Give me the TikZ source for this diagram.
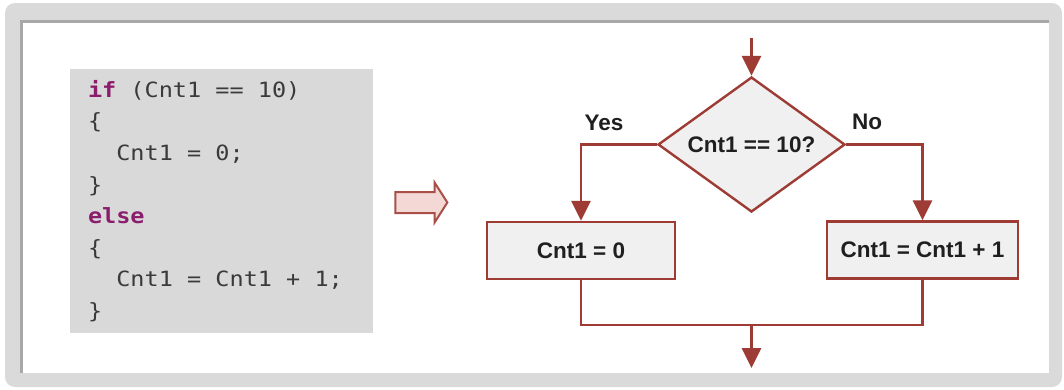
\documentclass[tikz,border=0pt]{standalone}
\usepackage{fontspec}
\setmainfont{Liberation Sans}
\newfontfamily\codefont[FakeStretch=1.12]{DejaVu Sans Mono}
\usepackage{xcolor}
\usetikzlibrary{positioning,arrows.meta,shapes.geometric,shapes.arrows}

\definecolor{flowred}{HTML}{9E3B34}
\definecolor{boxgray}{HTML}{F0F0F0}
\definecolor{codegray}{HTML}{D9D9D9}
\definecolor{codetext}{HTML}{3A3A3A}
\definecolor{keyword}{HTML}{8B1E6C}
\definecolor{framegray}{HTML}{DADADA}
\definecolor{shadowgray}{HTML}{A8A8A8}
\definecolor{arrowpink}{HTML}{F4D8D6}

\newcommand{\kw}[1]{\textcolor{keyword}{\bfseries #1}}
\newcommand{\blank}{\phantom{x}}
\newcommand{\ind}{\phantom{xx}}

\begin{document}
\begin{tikzpicture}[x=1pt, y=-1pt, every node/.style={font=\bfseries\fontsize{22.5}{27}\selectfont, text=black!88}]
  \tikzset{
    flow/.style={draw=flowred, line width=2.8pt},
    tip/.style={-{Triangle[width=19pt,length=20pt]}},
    procbox/.style={draw=flowred, line width=2.4pt, fill=boxgray, minimum height=57pt, inner sep=0pt},
    decision/.style={diamond, aspect=1.4, draw=flowred, line width=2.4pt, fill=boxgray,
                     minimum width=187pt, minimum height=135pt, inner sep=0pt},
    codebox/.style={fill=codegray, minimum width=303pt, minimum height=264pt, inner sep=0pt,
                    text width=267pt, align=left, text=codetext,
                    font=\codefont\fontsize{21}{31.6}\selectfont}
  }
  \useasboundingbox (0,0) rectangle (1064,389);

  % slide frame
  \fill[framegray, rounded corners=10pt] (5,3) rectangle (1062,387);
  \fill[white] (22,20) rectangle (1049,373);
  \draw[shadowgray, line width=3pt] (21.5,373) -- (21.5,21.5) -- (1049,21.5);

  % source code
  \node[codebox] (code) at (221.5,201)
      {\kw{if}\blank(Cnt1\blank==\blank10)\\
       \{\\
       \ind Cnt1\blank=\blank0;\\
       \}\\
       \kw{else}\\
       \{\\
       \ind Cnt1\blank=\blank Cnt1\blank+\blank1;\\
       \}};

  \node[single arrow, draw=flowred!90, line width=2pt, fill=arrowpink,
        minimum height=52pt, minimum width=38pt, inner sep=0pt, inner ysep=9.5pt,
        single arrow head extend=9.5pt, single arrow tip angle=115] (conv)
      at (418,202.5) {};

  % flowchart
  \node[decision] (test) at (751.5,144.5) {Cnt1 == 10?};
  \node[procbox, minimum width=188pt] (zero) at (581,250.5) {Cnt1 = 0};
  \node[procbox, minimum width=191pt] (incr) at (922.5,250) {Cnt1 = Cnt1 + 1};
  \node (yes) at (604,123) {Yes};
  \node (no) at (867,122) {No};

  \coordinate (entry) at (751.5,38);
  \coordinate (join) at (751.5,325);
  \coordinate (exit) at (751.5,368);

  \draw[flow, tip] (entry) -- (test.north);
  \draw[flow, tip] (test.west) -| (zero.north);
  \draw[flow, tip] (test.east) -| (incr.north);
  \draw[flow] (zero.south) |- (join) -| (incr.south);
  \draw[flow, tip] (join) -- (exit);
\end{tikzpicture}
\end{document}
